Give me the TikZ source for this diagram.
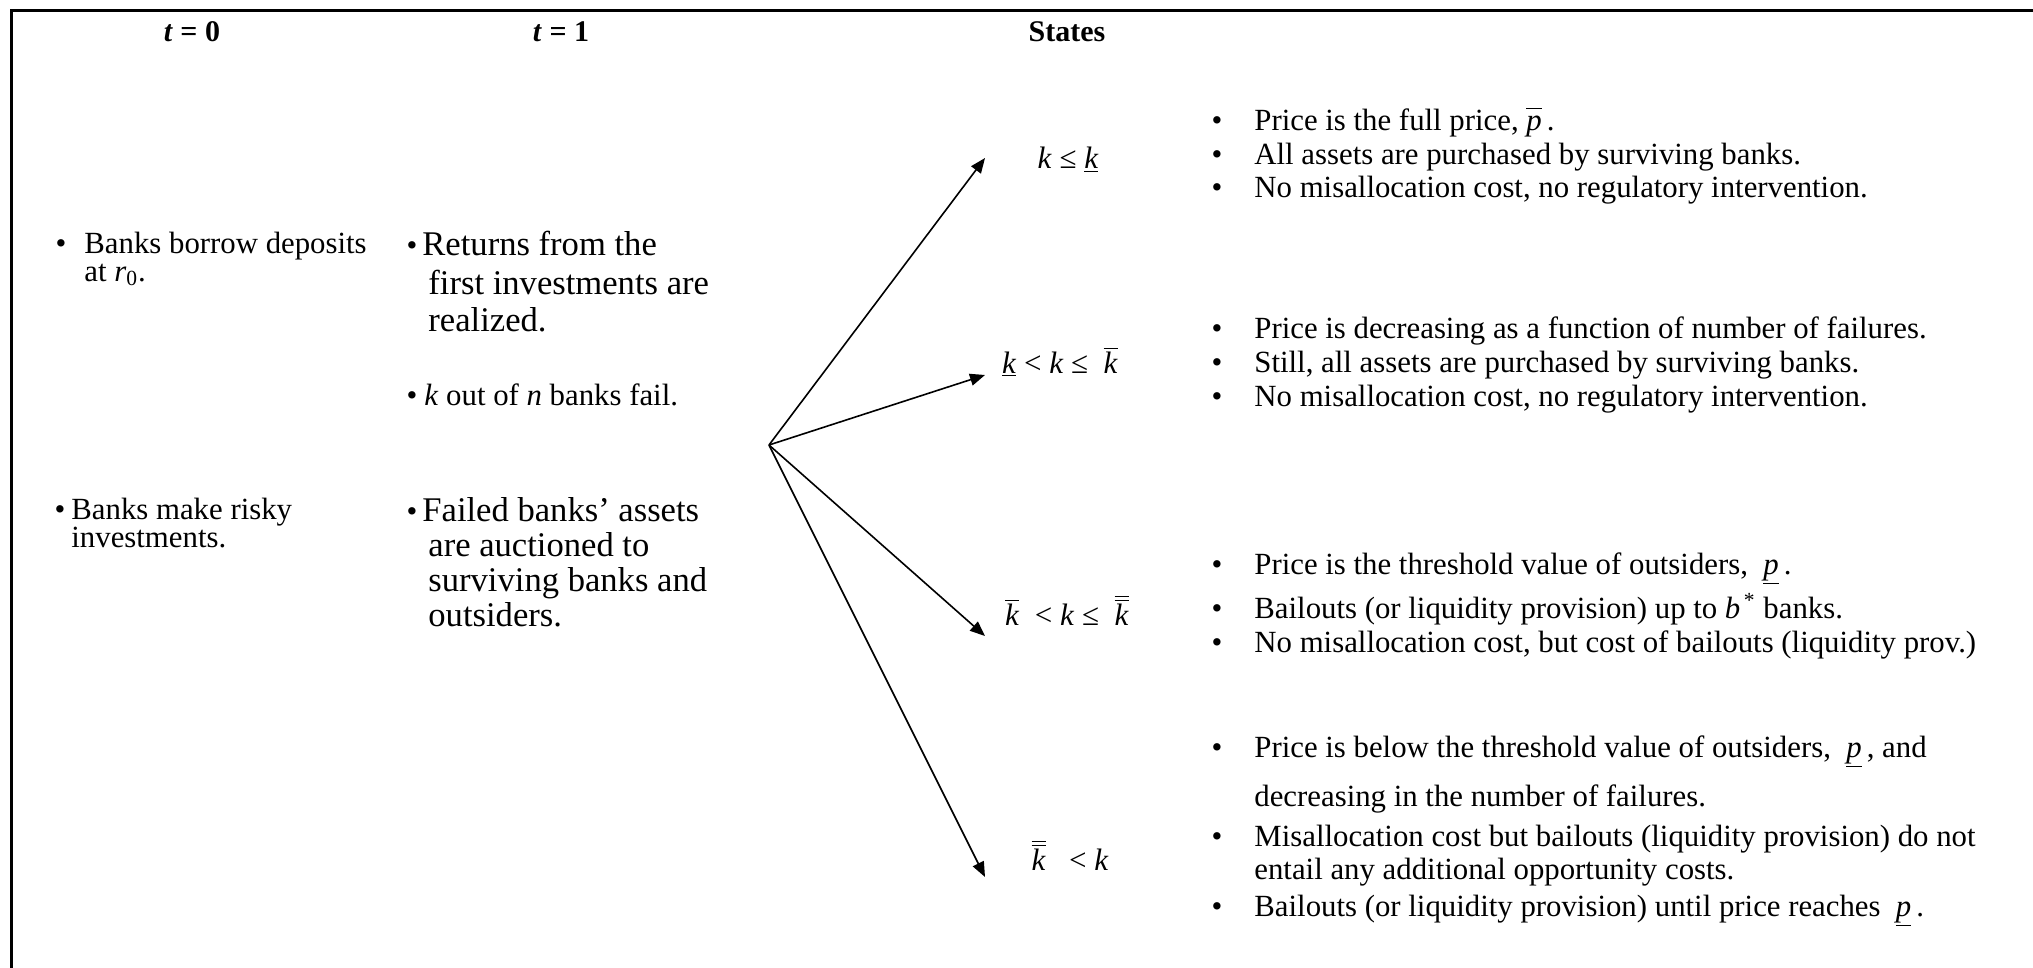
\documentclass[tikz,border=0pt]{standalone}
\usepackage{fontspec}
\setmainfont{Liberation Serif}
\usetikzlibrary{arrows.meta}

\newcommand{\kbar}{\ensuremath{\overline{\mbox{\textit{k}}}}}
\newcommand{\kbbar}{\ensuremath{\overline{\overline{\mbox{\textit{k}}}}}}
\newcommand{\kund}{\underline{\textit{k}}}
\newcommand{\pund}{\underline{\textit{p}}}
\newcommand{\pbar}{\ensuremath{\overline{\vphantom{\mbox{P}}\mbox{\textit{p}}}}}

\tikzset{
  txt/.style={anchor=base west, inner sep=0pt, font=\fontsize{15.4}{18}\selectfont},
  big/.style={anchor=base west, inner sep=0pt, font=\fontsize{17.3}{21}\selectfont},
  dot/.style={anchor=base, inner sep=0pt, font=\fontsize{15.4}{18}\selectfont},
  head/.style={anchor=base, inner sep=0pt, font=\fontsize{15}{18}\selectfont\bfseries},
  state/.style={anchor=base, inner sep=0pt, font=\fontsize{15.5}{18}\selectfont},
  branch/.style={-{Triangle[length=7.5pt,width=6pt]}, line width=0.8pt},
}

\begin{document}
\begin{tikzpicture}[x=0.5pt,y=-0.5pt]
    \useasboundingbox (0,0) rectangle (2033,968);
    \draw[line width=1.5pt] (2033,11) -- (11,11) -- (11,968);

    % headings
    \node[head] (h0) at (192,42) {\textit{t} = 0};
    \node[head] (h1) at (561,42) {\textit{t} = 1};
    \node[head] (h2) at (1067,42) {States};

    % t = 0
    \node[dot] (d01) at (61,254) {\textbullet};
    \node[txt] (a1) at (84,254) {Banks borrow deposits};
    \node[txt] (a2) at (84,281) {at \textit{r}\textsubscript{0}.};
    \node[dot] (d02) at (60,519) {\textbullet};
    \node[txt] (b1) at (71,519) {Banks make risky};
    \node[txt] (b2) at (71,547) {investments.};

    % t = 1
    \node[dot] (d11) at (412,256) {\textbullet};
    \node[big] (c1) at (422,256) {Returns from the};
    \node[big] (c2) at (428,294) {first investments are};
    \node[big] (c3) at (428,331) {realized.};
    \node[dot] (d12) at (412,405) {\textbullet};
    \node[txt] (c4) at (424,405) {\textit{k} out of \textit{n} banks fail.};
    \node[dot] (d13) at (412,521) {\textbullet};
    \node[big] (c5) at (422,521) {Failed banks’ assets};
    \node[big] (c6) at (428,556) {are auctioned to};
    \node[big] (c7) at (428,591) {surviving banks and};
    \node[big] (c8) at (428,626) {outsiders.};

    % branches
    \coordinate (o) at (769,445);
    \coordinate (e1) at (985,158);
    \coordinate (e2) at (985,375);
    \coordinate (e3) at (985,636);
    \coordinate (e4) at (985,877);
    \foreach \e in {e1,e2,e3,e4}
        \draw[branch] (o) -- (\e);

    % states
    \node[state] (s1) at (1068,169) {\textit{k} ≤ \kund};
    \node[state] (s2) at (1060,373) {\kund{} < \textit{k} ≤ \ \kbar};
    \node[state] (s3) at (1067,625) {\kbar\ \ < \textit{k} ≤ \ \kbbar};
    \node[state] (s4) at (1070,870) {\kbbar\ \ \ < \textit{k}};

    % outcomes
    \node[dot] (r11) at (1217,131) {\textbullet};
    \node[txt] (p11) at (1254,131) {Price is the full price, \pbar\,.};
    \node[dot] (r12) at (1217,165) {\textbullet};
    \node[txt] (p12) at (1254,165) {All assets are purchased by surviving banks.};
    \node[dot] (r13) at (1217,198) {\textbullet};
    \node[txt] (p13) at (1254,198) {No misallocation cost, no regulatory intervention.};

    \node[dot] (r21) at (1217,338) {\textbullet};
    \node[txt] (p21) at (1254,338) {Price is decreasing as a function of number of failures.};
    \node[dot] (r22) at (1217,372) {\textbullet};
    \node[txt] (p22) at (1254,372) {Still, all assets are purchased by surviving banks.};
    \node[dot] (r23) at (1217,406) {\textbullet};
    \node[txt] (p23) at (1254,406) {No misallocation cost, no regulatory intervention.};

    \node[dot] (r31) at (1217,574) {\textbullet};
    \node[txt] (p31) at (1254,574) {Price is the threshold value of outsiders, \ \pund\,.};
    \node[dot] (r32) at (1217,618) {\textbullet};
    \node[txt] (p32) at (1254,618) {Bailouts (or liquidity provision) up to \textit{b}\textsuperscript{\,*} banks.};
    \node[dot] (r33) at (1217,652) {\textbullet};
    \node[txt] (p33) at (1254,652) {No misallocation cost, but cost of bailouts (liquidity prov.)};

    \node[dot] (r41) at (1217,757) {\textbullet};
    \node[txt] (p41) at (1254,757) {Price is below the threshold value of outsiders, \ \pund\,, and};
    \node[txt] (p42) at (1254,806) {decreasing in the number of failures.};
    \node[dot] (r42) at (1217,846) {\textbullet};
    \node[txt] (p43) at (1254,846) {Misallocation cost but bailouts (liquidity provision) do not};
    \node[txt] (p44) at (1254,879) {entail any additional opportunity costs.};
    \node[dot] (r43) at (1217,916) {\textbullet};
    \node[txt] (p45) at (1254,916) {Bailouts (or liquidity provision) until price reaches \ \pund\,.};
\end{tikzpicture}
\end{document}
